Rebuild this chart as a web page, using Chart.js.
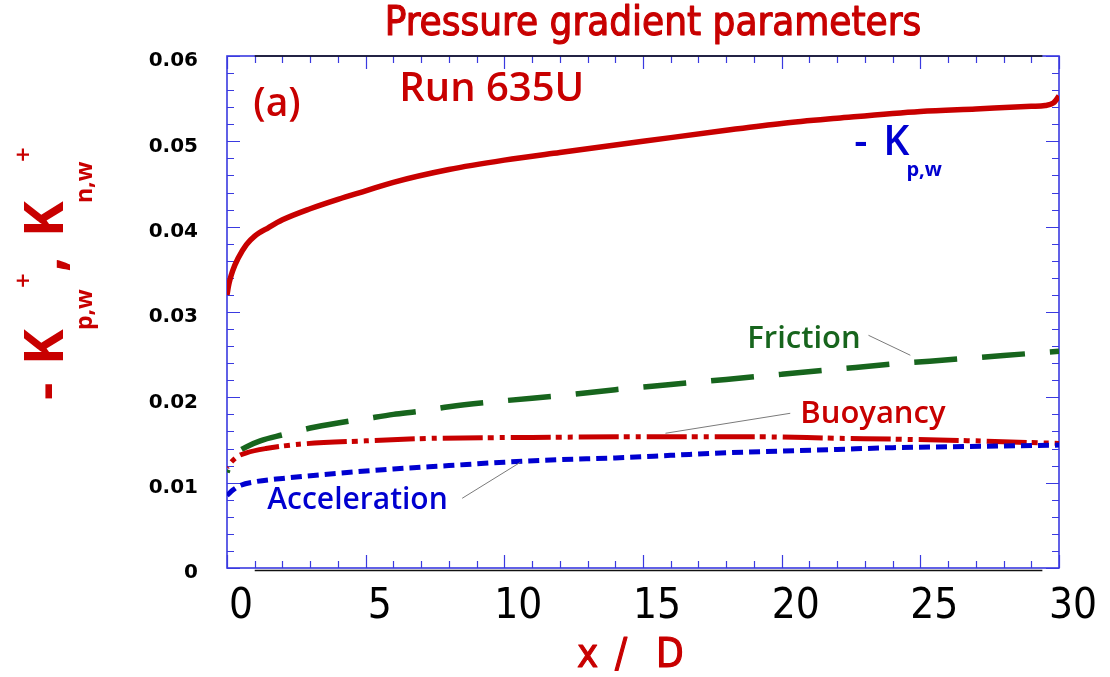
<!DOCTYPE html>
<html>
<head>
<meta charset="utf-8">
<script src="https://cdn.jsdelivr.net/npm/chart.js@4.4.1/dist/chart.umd.min.js"></script>
<style>
  html, body { margin: 0; padding: 0; background: #ffffff; }
  #wrap { width: 1110px; height: 677px; }
</style>
</head>
<body>
<div id="wrap"><canvas id="c" width="1110" height="677"></canvas></div>
<script>
// -K_p,w  (total wall pressure-gradient parameter)
const xKpw = [0, 0.05, 0.1, 0.2, 0.4, 0.7, 1, 1.5, 2, 3, 4, 5, 6, 8, 10, 12, 15, 18, 20, 22, 25, 27, 29, 29.5, 29.8, 30];
const kpw  = [0.0320, 0.0330, 0.0337, 0.0348, 0.0363, 0.0379, 0.0389, 0.0399, 0.0408, 0.0421, 0.0432, 0.0442, 0.0452, 0.0467, 0.0478, 0.0487, 0.0500, 0.0513, 0.0521, 0.0527, 0.0535, 0.0538, 0.0541, 0.0542, 0.0545, 0.0553];

// Friction contribution
const xFriction = [0, 0.1, 0.3, 0.7, 1.2, 2, 3, 4, 5, 6, 7, 8, 10, 12, 14, 16, 18, 20, 22, 24, 26, 28, 30];
const friction  = [0.0112, 0.0122, 0.0133, 0.0142, 0.0149, 0.0156, 0.0164, 0.0170, 0.0175, 0.0180, 0.0184, 0.0189, 0.0196, 0.0202, 0.0209, 0.0215, 0.0221, 0.0227, 0.0233, 0.0239, 0.0244, 0.0249, 0.0254];

// Buoyancy contribution
const xBuoyancy = [0, 0.15, 0.4, 0.7, 1.4, 2.6, 5, 7.5, 11, 15, 19, 22, 24, 27, 30];
const buoyancy  = [0.0118, 0.0124, 0.0131, 0.0135, 0.0140, 0.0145, 0.0149, 0.0152, 0.0153, 0.01538, 0.01538, 0.0152, 0.0151, 0.0149, 0.0146];

// Acceleration contribution
const xAccel = [0, 0.2, 0.5, 1, 2, 4, 6, 8, 10, 12, 14, 16, 18, 20, 22, 24, 26, 28, 30];
const accel  = [0.0085, 0.0091, 0.0097, 0.0101, 0.0105, 0.0111, 0.0116, 0.0120, 0.0124, 0.0127, 0.0129, 0.0132, 0.0135, 0.0137, 0.0139, 0.0141, 0.0142, 0.0143, 0.0144];

// Axis ranges and labelled ticks
const xRange = [0, 30];
const yRange = [0, 0.06];
const xTickLabels = ['0', '5', '10', '15', '20', '25', '30'];
const yTickLabels = ['0', '0.01', '0.02', '0.03', '0.04', '0.05', '0.06'];

const RED = '#c80000';
const BLUE = '#0000d0';
const GREEN = '#17651d';
const FRAME = '#3a3ae0';
const CONDENSED = '"DejaVu Sans Condensed", "Liberation Sans Narrow", "DejaVu Sans", sans-serif';
const HUMANIST = '"Open Sans", "DejaVu Sans", sans-serif';

const pts = (xs, ys) => xs.map((x, i) => ({ x, y: ys[i] }));

const series = (data, color, width, dash, offset) => ({
  data, borderColor: color, borderWidth: width, borderDash: dash, borderDashOffset: offset,
  showLine: true, pointRadius: 0, fill: false, cubicInterpolationMode: 'monotone', borderCapStyle: 'butt'
});

// Curve annotations, placed in data units
const notes = [
  { parts: [{ t: '(a)', dx: 0 }], x: 0.95, y: 0.0530, color: RED, font: '600 39px ' + HUMANIST },
  { parts: [{ t: 'Run 635U', dx: 0 }], x: 6.21, y: 0.05473, color: RED, font: '600 40px ' + HUMANIST },
  { parts: [{ t: '-', dx: 0 }, { t: 'K', dx: 29 }], x: 22.62, y: 0.04837, color: BLUE, font: '600 41px ' + HUMANIST },
  { parts: [{ t: 'p,w', dx: 0 }], x: 24.50, y: 0.04590, color: BLUE, font: 'bold 20px ' + HUMANIST },
  { parts: [{ t: 'Friction', dx: 0 }], x: 18.76, y: 0.02575, color: GREEN, font: '600 31px ' + HUMANIST },
  { parts: [{ t: 'Buoyancy', dx: 0 }], x: 20.67, y: 0.01696, color: RED, font: '600 31px ' + HUMANIST },
  { parts: [{ t: 'Acceleration', dx: 0 }], x: 1.45, y: 0.00696, color: BLUE, font: '600 30px ' + HUMANIST }
];

// Leader lines from labels to curves, in data units
const leaders = [
  [23.13, 0.02727, 24.64, 0.02493],
  [20.31, 0.01813, 15.81, 0.01579],
  [8.48, 0.00817, 10.58, 0.01239]
];

const isMajorX = v => Math.abs(v / 5 - Math.round(v / 5)) < 1e-6;
const isMajorY = v => Math.abs(v * 100 - Math.round(v * 100)) < 1e-6;

// text with a thin outline in the same colour, for a heavier stroke
function heavyText(ctx, text, px, py, w) {
  ctx.fillText(text, px, py);
  ctx.lineWidth = w;
  ctx.lineJoin = 'round';
  ctx.strokeStyle = ctx.fillStyle;
  ctx.strokeText(text, px, py);
}

const framePlugin = {
  id: 'frame',
  beforeDatasetsDraw(chart) {
    const { ctx, chartArea: a, scales: { x, y } } = chart;
    ctx.save();
    ctx.strokeStyle = FRAME;
    ctx.lineWidth = 1.6;
    ctx.strokeRect(a.left, a.top, a.right - a.left, a.bottom - a.top);
    ctx.lineWidth = 1.2;
    ctx.beginPath();
    x.ticks.forEach(t => {
      const px = Math.round(x.getPixelForValue(t.value)) + 0.5;
      const len = isMajorX(t.value) ? 13 : 7;
      ctx.moveTo(px, a.bottom); ctx.lineTo(px, a.bottom - len);
      ctx.moveTo(px, a.top); ctx.lineTo(px, a.top + len);
    });
    y.ticks.forEach(t => {
      const py = Math.round(y.getPixelForValue(t.value)) + 0.5;
      const len = isMajorY(t.value) ? 13 : 7;
      ctx.moveTo(a.left, py); ctx.lineTo(a.left + len, py);
      ctx.moveTo(a.right, py); ctx.lineTo(a.right - len, py);
    });
    ctx.stroke();
    // dark rules along the top edge and just under the bottom edge
    ctx.strokeStyle = '#111111';
    ctx.lineWidth = 1.4;
    ctx.beginPath();
    const x0 = x.getPixelForValue(1), x1 = x.getPixelForValue(29.4);
    ctx.moveTo(x0, a.top); ctx.lineTo(x1, a.top);
    ctx.moveTo(x0, a.bottom + 2.5); ctx.lineTo(x1, a.bottom + 2.5);
    ctx.stroke();
    ctx.restore();
  },
  afterDraw(chart) {
    const { ctx, scales: { x, y } } = chart;
    ctx.save();
    // title
    ctx.fillStyle = RED;
    ctx.font = '40px ' + CONDENSED;
    ctx.textAlign = 'center';
    ctx.textBaseline = 'alphabetic';
    heavyText(ctx, 'Pressure gradient parameters', 653, 35, 1.1);

    // x-axis title
    ctx.textAlign = 'left';
    ctx.font = '40px ' + CONDENSED;
    heavyText(ctx, 'x', 577, 667, 1.1);
    heavyText(ctx, '/', 615, 667, 1.1);
    heavyText(ctx, 'D', 656, 667, 1.1);

    // y-axis title, rotated:  - K+p,w , K+n,w
    ctx.save();
    ctx.translate(63, 400);
    ctx.rotate(-Math.PI / 2);
    const big = 'bold 54px ' + HUMANIST, sub = 'bold 23px ' + HUMANIST, sup = '600 26px ' + HUMANIST;
    ctx.font = big; ctx.textBaseline = 'alphabetic';
    ctx.fillText('-', 0, 0);
    ctx.fillText('K', 35, 0);
    ctx.font = sub; ctx.fillText('p,w', 70, 29);
    ctx.font = sup; ctx.textBaseline = 'middle'; ctx.fillText('+', 112, -38);
    ctx.font = big; ctx.textBaseline = 'alphabetic';
    ctx.fillText(',', 128, 0);
    ctx.fillText('K', 163, 0);
    ctx.font = sub; ctx.fillText('n,w', 197, 29);
    ctx.font = sup; ctx.textBaseline = 'middle'; ctx.fillText('+', 238, -38);
    ctx.restore();

    // leader lines
    ctx.strokeStyle = '#7a7a7a';
    ctx.lineWidth = 1;
    ctx.beginPath();
    leaders.forEach(([ax, ay, bx, by]) => {
      ctx.moveTo(x.getPixelForValue(ax), y.getPixelForValue(ay));
      ctx.lineTo(x.getPixelForValue(bx), y.getPixelForValue(by));
    });
    ctx.stroke();

    // annotations
    ctx.textAlign = 'left';
    ctx.textBaseline = 'alphabetic';
    notes.forEach(n => {
      ctx.fillStyle = n.color;
      ctx.font = n.font;
      const px = x.getPixelForValue(n.x), py = y.getPixelForValue(n.y);
      n.parts.forEach(p => ctx.fillText(p.t, px + p.dx, py));
    });
    ctx.restore();
  }
};

new Chart(document.getElementById('c'), {
  type: 'scatter',
  data: {
    datasets: [
      series(pts(xAccel, accel), BLUE, 5, [11, 6], 0),
      series(pts(xBuoyancy, buoyancy), RED, 5, [40, 5, 6, 6, 5, 6], 50),
      series(pts(xFriction, friction), GREEN, 5.5, [43, 25], 40),
      series(pts(xKpw, kpw), RED, 5.5, [], 0)
    ]
  },
  options: {
    responsive: false,
    animation: false,
    devicePixelRatio: 1,
    layout: { padding: { left: 0, top: 56, right: 51, bottom: 0 } },
    plugins: { legend: { display: false }, tooltip: { enabled: false }, title: { display: false } },
    scales: {
      x: {
        type: 'linear', min: xRange[0], max: xRange[1],
        afterFit: s => { s.height = 109; },
        grid: { display: false, drawTicks: false },
        border: { display: false },
        ticks: {
          stepSize: 1, autoSkip: false, maxRotation: 0, minRotation: 0,
          padding: 14, labelOffset: 14, color: '#000',
          font: { family: CONDENSED, size: 42 },
          callback: v => (isMajorX(v) ? xTickLabels[Math.round(v / 5)] : '')
        }
      },
      y: {
        type: 'linear', min: yRange[0], max: yRange[1],
        afterFit: s => { s.width = 227; },
        grid: { display: false, drawTicks: false },
        border: { display: false },
        ticks: {
          stepSize: 0.002, autoSkip: false, padding: 29, labelOffset: 5, color: '#000',
          font: { family: '"DejaVu Sans", sans-serif', size: 20, weight: 'bold' },
          callback: v => (isMajorY(v) ? yTickLabels[Math.round(v * 100)] : '')
        }
      }
    }
  },
  plugins: [framePlugin]
});
</script>
</body>
</html>
